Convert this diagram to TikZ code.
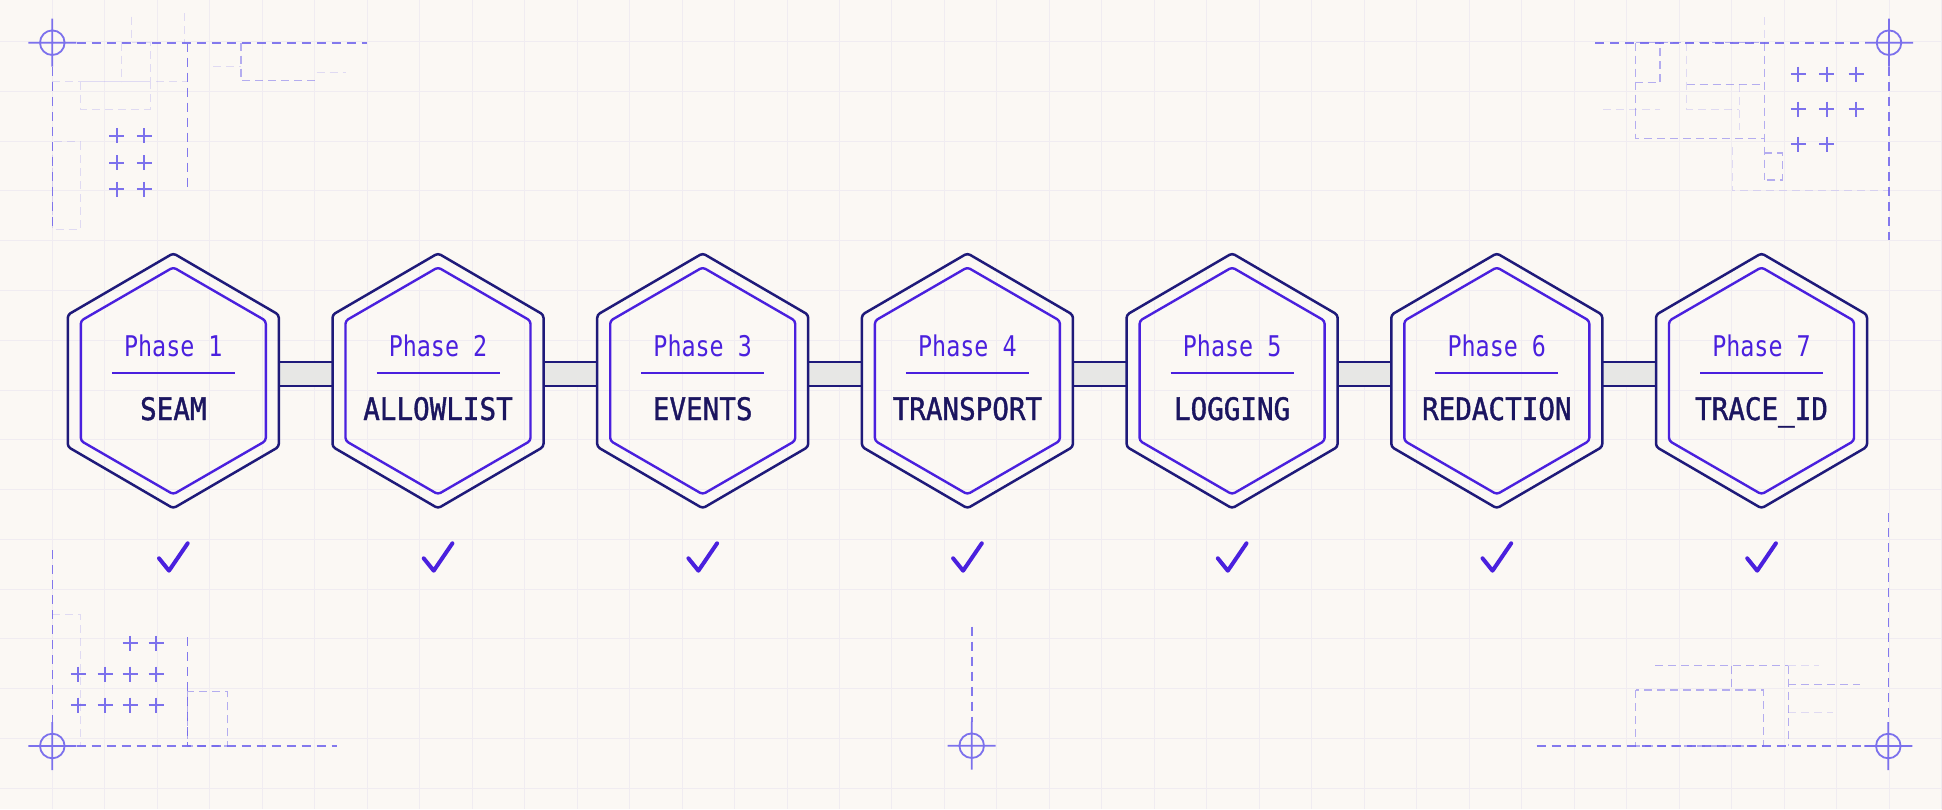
\documentclass[tikz,border=0pt]{standalone}
\usepackage{fontspec}
\usetikzlibrary{calc}
\newfontfamily\phasefont[FakeStretch=0.82]{DejaVu Sans Mono}
\newfontfamily\stagefont[FakeStretch=0.89,FakeBold=1.2]{DejaVu Sans Mono}

\definecolor{paper}{HTML}{FBF8F4}
\definecolor{gridline}{HTML}{F0ECF1}
\definecolor{navy}{HTML}{1F1A7A}
\definecolor{violet}{HTML}{4A20DE}
\definecolor{ink}{HTML}{1B1560}
\definecolor{guide}{HTML}{6F63EC}
\definecolor{bandgray}{HTML}{E7E7E5}

\tikzset{
  hexouter/.style={draw=navy,line width=2.5pt,rounded corners=3pt,line join=round},
  hexinner/.style={draw=violet,line width=2.4pt,rounded corners=3pt,line join=round},
  phasetext/.style={text=violet,font=\phasefont\fontsize{28.5}{30}\selectfont,anchor=base,inner sep=0pt},
  stagetext/.style={text=ink,font=\stagefont\fontsize{31}{33}\selectfont,anchor=base,inner sep=0pt},
  bandedge/.style={draw=navy,line width=2pt},
  tick/.style={draw=violet,line width=4pt,line cap=round,line join=round},
  guidestrong/.style={draw=guide,line width=1.6pt,dash pattern=on 9pt off 6pt,opacity=.85},
  guidemid/.style={draw=guide,line width=1.3pt,dash pattern=on 8pt off 5pt,opacity=.5},
  guidefaint/.style={draw=guide,line width=1pt,dash pattern=on 8pt off 5pt,opacity=.2},
  crosshair/.pic={\draw[guide,line width=1.8pt,opacity=.9] (0,0) circle (12.3) (-24,0) -- (24,0) (0,-24) -- (0,24);},
  plus/.pic={\draw[guide,line width=1.8pt,opacity=.9] (-7.5,0) -- (7.5,0) (0,-7.5) -- (0,7.5);}
}

\begin{document}
\begin{tikzpicture}[x=1pt,y=-1pt]
\useasboundingbox (0,0) rectangle (1942,809);
\fill[paper] (0,0) rectangle (1942,809);
\foreach \k in {0,...,37}
  \draw[gridline,line width=1pt] ({-0.2+52.48*\k},0) -- ({-0.2+52.48*\k},809);
\foreach \k in {0,...,16}
  \draw[gridline,line width=1pt] (0,{-8.1+49.77*\k}) -- (1942,{-8.1+49.77*\k});

% top left corner
\pic at (52.3,42.7) {crosshair};
\draw[guidestrong] (76.5,42.7) -- (367,42.7) (52.3,67) -- (52.3,230) (187.3,42.7) -- (187.3,191.7);
\draw[guidemid] (241,42.7) -- (241,80.7) -- (316.7,80.7);
\draw[guidefaint] (80.7,81.7) rectangle (150,109) (121,42.7) rectangle (150,81.7)
  (52.3,81.7) -- (187.3,81.7) (52.3,141.7) rectangle (80,229.3)
  (131.7,16.7) -- (131.7,42.7) (184,13) -- (184,42.7) (213,66.7) -- (241,66.7) (316.7,72) -- (346,72);
\foreach \x in {116.7,144.3}
  \foreach \y in {135.7,162.7,189.3}
    \pic at (\x,\y) {plus};

% top right corner
\pic at (1889,42.7) {crosshair};
\draw[guidestrong] (1595,42.7) -- (1865,42.7) (1889,67) -- (1889,240);
\draw[guidemid] (1764.3,42.7) -- (1764.3,180) (1635.7,42.7) rectangle (1764.3,138.3)
  (1635.7,42.7) rectangle (1660,82.7) (1686.7,84.3) -- (1764.3,84.3)
  (1764.3,153) -- (1782.3,153) -- (1782.3,180) -- (1764.3,180);
\draw[guidefaint] (1686.7,42.7) -- (1686.7,109) -- (1739,109) (1739,84.3) -- (1739,130)
  (1732,147) -- (1732,190.7) -- (1889,190.7) (1603,109) -- (1660,109) (1764.3,17) -- (1764.3,42.7);
\foreach \x/\y in {1798.3/74,1826.7/74,1856/74,1798.3/109,1826.7/109,1856/109,1798.3/144.3,1826.7/144.3}
  \pic at (\x,\y) {plus};

% bottom left corner
\pic at (52.3,746) {crosshair};
\draw[guidestrong] (52.3,550) -- (52.3,722) (76.5,746) -- (336.7,746) (187.3,637.3) -- (187.3,746);
\draw[guidemid] (187.3,691.7) rectangle (227.3,746);
\draw[guidefaint] (52.3,614) -- (80,614) -- (80,746);
\foreach \x/\y in {130/643.3,156/643.3,78.3/674,105/674,130/674,156/674,78.3/705,105/705,130/705,156/705}
  \pic at (\x,\y) {plus};

% bottom right corner
\pic at (1888.3,746) {crosshair};
\draw[guidestrong] (1888.3,513) -- (1888.3,722) (1536.7,746) -- (1864,746);
\draw[guidemid] (1635.7,690) rectangle (1763.3,746) (1788.3,665.7) -- (1788.3,746)
  (1655,665.7) -- (1788.3,665.7) (1731.7,665.7) -- (1731.7,690) (1788.3,684.3) -- (1860,684.3);
\draw[guidefaint] (1788.3,712.7) -- (1833,712.7) (1788.3,665.7) -- (1819,665.7);

% bottom centre
\pic at (971.7,745.7) {crosshair};
\draw[guidestrong] (971.7,626.7) -- (971.7,721.7);

\foreach \n [count=\i from 0] in {1,...,7}
  \coordinate (p\n) at ({173.3+264.7*\i},380.8);

\foreach \a/\b in {1/2,2/3,3/4,4/5,5/6,6/7}{
  \fill[bandgray] ($(p\a)+(105.5,-19)$) rectangle ($(p\b)+(-105.5,5.5)$);
  \draw[bandedge] ($(p\a)+(105.5,-19)$) -- ($(p\b)+(-105.5,-19)$)
                  ($(p\a)+(105.5,5.5)$) -- ($(p\b)+(-105.5,5.5)$);
}

\foreach \n/\stage in {1/SEAM,2/ALLOWLIST,3/EVENTS,4/TRANSPORT,5/LOGGING,6/REDACTION,7/TRACE\_ID}{
  \draw[hexouter] ($(p\n)+(0,-127.5)$) -- ++(105.5,61.5) -- ++(0,132) -- ++(-105.5,61.5)
    -- ++(-105.5,-61.5) -- ++(0,-132) -- cycle;
  \draw[hexinner] ($(p\n)+(0,-113.5)$) -- ++(92.5,53.5) -- ++(0,120) -- ++(-92.5,53.5)
    -- ++(-92.5,-53.5) -- ++(0,-120) -- cycle;
  \node[phasetext] (ph\n) at ($(p\n)+(0,-24.8)$) {Phase \n};
  \draw[violet,line width=2pt] ($(p\n)+(-61.5,-7.5)$) -- ($(p\n)+(61.5,-7.5)$);
  \node[stagetext] (st\n) at ($(p\n)+(0,39.2)$) {\stage};
  \draw[tick] ($(p\n)+(-14.3,177.5)$) -- ++(10,12.4) -- ++(18.7,-27.4);
}
\end{tikzpicture}
\end{document}
